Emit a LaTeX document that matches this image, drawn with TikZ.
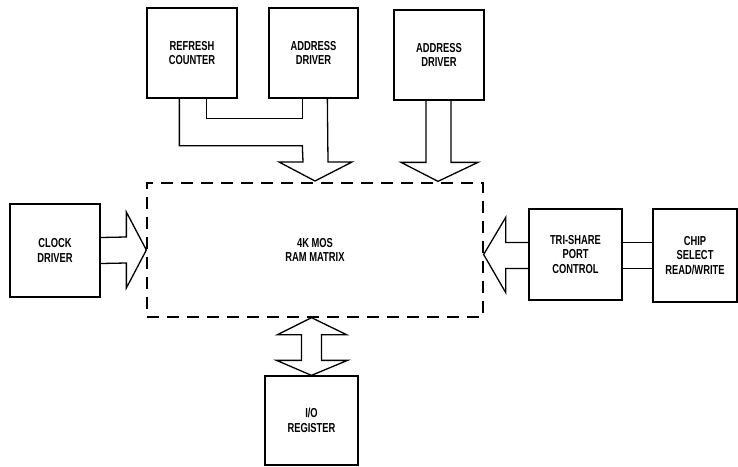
\documentclass[tikz,border=0pt]{standalone}
\usepackage{fontspec}
\setmainfont[FakeStretch=0.72]{Liberation Sans}
\usetikzlibrary{calc}
\begin{document}
\begin{tikzpicture}[x=1pt,y=-1pt,
  blk/.style={draw, line width=1.3pt, align=center, inner sep=0pt,
    font=\fontsize{13}{14.8}\selectfont\bfseries},
  dashbox/.style={draw, line width=1.3pt, dash pattern=on 12pt off 8pt, align=center, inner sep=0pt,
    font=\fontsize{13}{14.8}\selectfont\bfseries},
  conn/.style={line width=1.3pt, line join=miter}]
\useasboundingbox (0,0) rectangle (738,466);
\fill[white] (0,0) rectangle (738,466);
% blocks
\node[blk, minimum width=90pt, minimum height=90pt] (rc) at (192,53) {REFRESH\\COUNTER};
\node[blk, minimum width=89pt, minimum height=90pt] (ad1) at (313.5,53) {ADDRESS\\DRIVER};
\node[blk, minimum width=90pt, minimum height=90pt] (ad2) at (439,55) {ADDRESS\\DRIVER};
\node[blk, minimum width=90pt, minimum height=93pt] (clk) at (55,250.5) {CLOCK\\DRIVER};
\node[blk, minimum width=93pt, minimum height=91pt] (tri) at (575.5,254.5) {TRI-SHARE\\PORT\\CONTROL};
\node[blk, minimum width=84pt, minimum height=93pt] (chip) at (695,255.5) {CHIP\\SELECT\\READ/WRITE};
\node[blk, minimum width=93pt, minimum height=89pt] (io) at (311.5,420.5) {I/O\\REGISTER};
\node[dashbox, minimum width=336pt, minimum height=134pt] (ram) at (315,250) {4K MOS\\RAM MATRIX};
% clock arrow
\draw[conn] ($(clk.east)+(0,-13)$) -- ($(ram.west)+(-20,-13)$) -- ($(ram.west)+(-20,-38)$)
  -- (ram.west) -- ($(ram.west)+(-20,38)$) -- ($(ram.west)+(-20,13)$) -- ($(clk.east)+(0,13)$);
% tri-share arrow
\coordinate (tt) at (ram.east |- tri.west);
\draw[conn] ($(tri.west)+(0,-12)$) -- ($(tt)+(22,-12)$) -- ($(tt)+(22,-37)$)
  -- (tt) -- ($(tt)+(22,38)$) -- ($(tt)+(22,14)$) -- ($(tri.west)+(0,14)$);
% chip select to tri-share
\draw[conn] ($(tri.east)+(0,-12)$) -- ($(chip.west |- tri.east)+(0,-12)$);
\draw[conn] ($(tri.east)+(0,14)$) -- ($(chip.west |- tri.east)+(0,14)$);
% I/O double arrow
\coordinate (iot) at (io.north |- ram.south);
\draw[conn] (iot) -- ($(iot)+(35,17)$) -- ($(iot)+(10,17)$) -- ($(io.north)+(10,-15)$)
  -- ($(io.north)+(36,-15)$) -- (io.north) -- ($(io.north)+(-35,-15)$) -- ($(io.north)+(-10,-15)$)
  -- ($(iot)+(-10,17)$) -- ($(iot)+(-34,17)$) -- cycle;
% address driver 2 arrow
\coordinate (a2t) at ($(ad2.south |- ram.north)+(-1,-1)$);
\draw[conn] ($(ad2.south)+(-13,0)$) -- ($(a2t)+(-12,-19)$) -- ($(a2t)+(-37,-19)$) -- (a2t)
  -- ($(a2t)+(40,-19)$) -- ($(a2t)+(13,-19)$) -- ($(ad2.south)+(12,0)$);
% merged refresh / address arrow
\coordinate (a1t) at (315,181);
\draw[conn] ($(rc.south west)+(33,0)$) -- ($(rc.south west)+(33,47)$) -- ($(ad1.south west)+(34,47)$)
  -- ($(a1t)+(-12,-19)$) -- ($(a1t)+(-36,-19)$) -- (a1t) -- ($(a1t)+(37,-19)$)
  -- ($(a1t)+(13,-19)$) -- ($(ad1.south west)+(59,0)$);
\draw[conn] ($(rc.south west)+(60,0)$) -- ($(rc.south west)+(60,20)$) -- ($(ad1.south west)+(34,20)$)
  -- ($(ad1.south west)+(34,0)$);
\end{tikzpicture}
\end{document}
